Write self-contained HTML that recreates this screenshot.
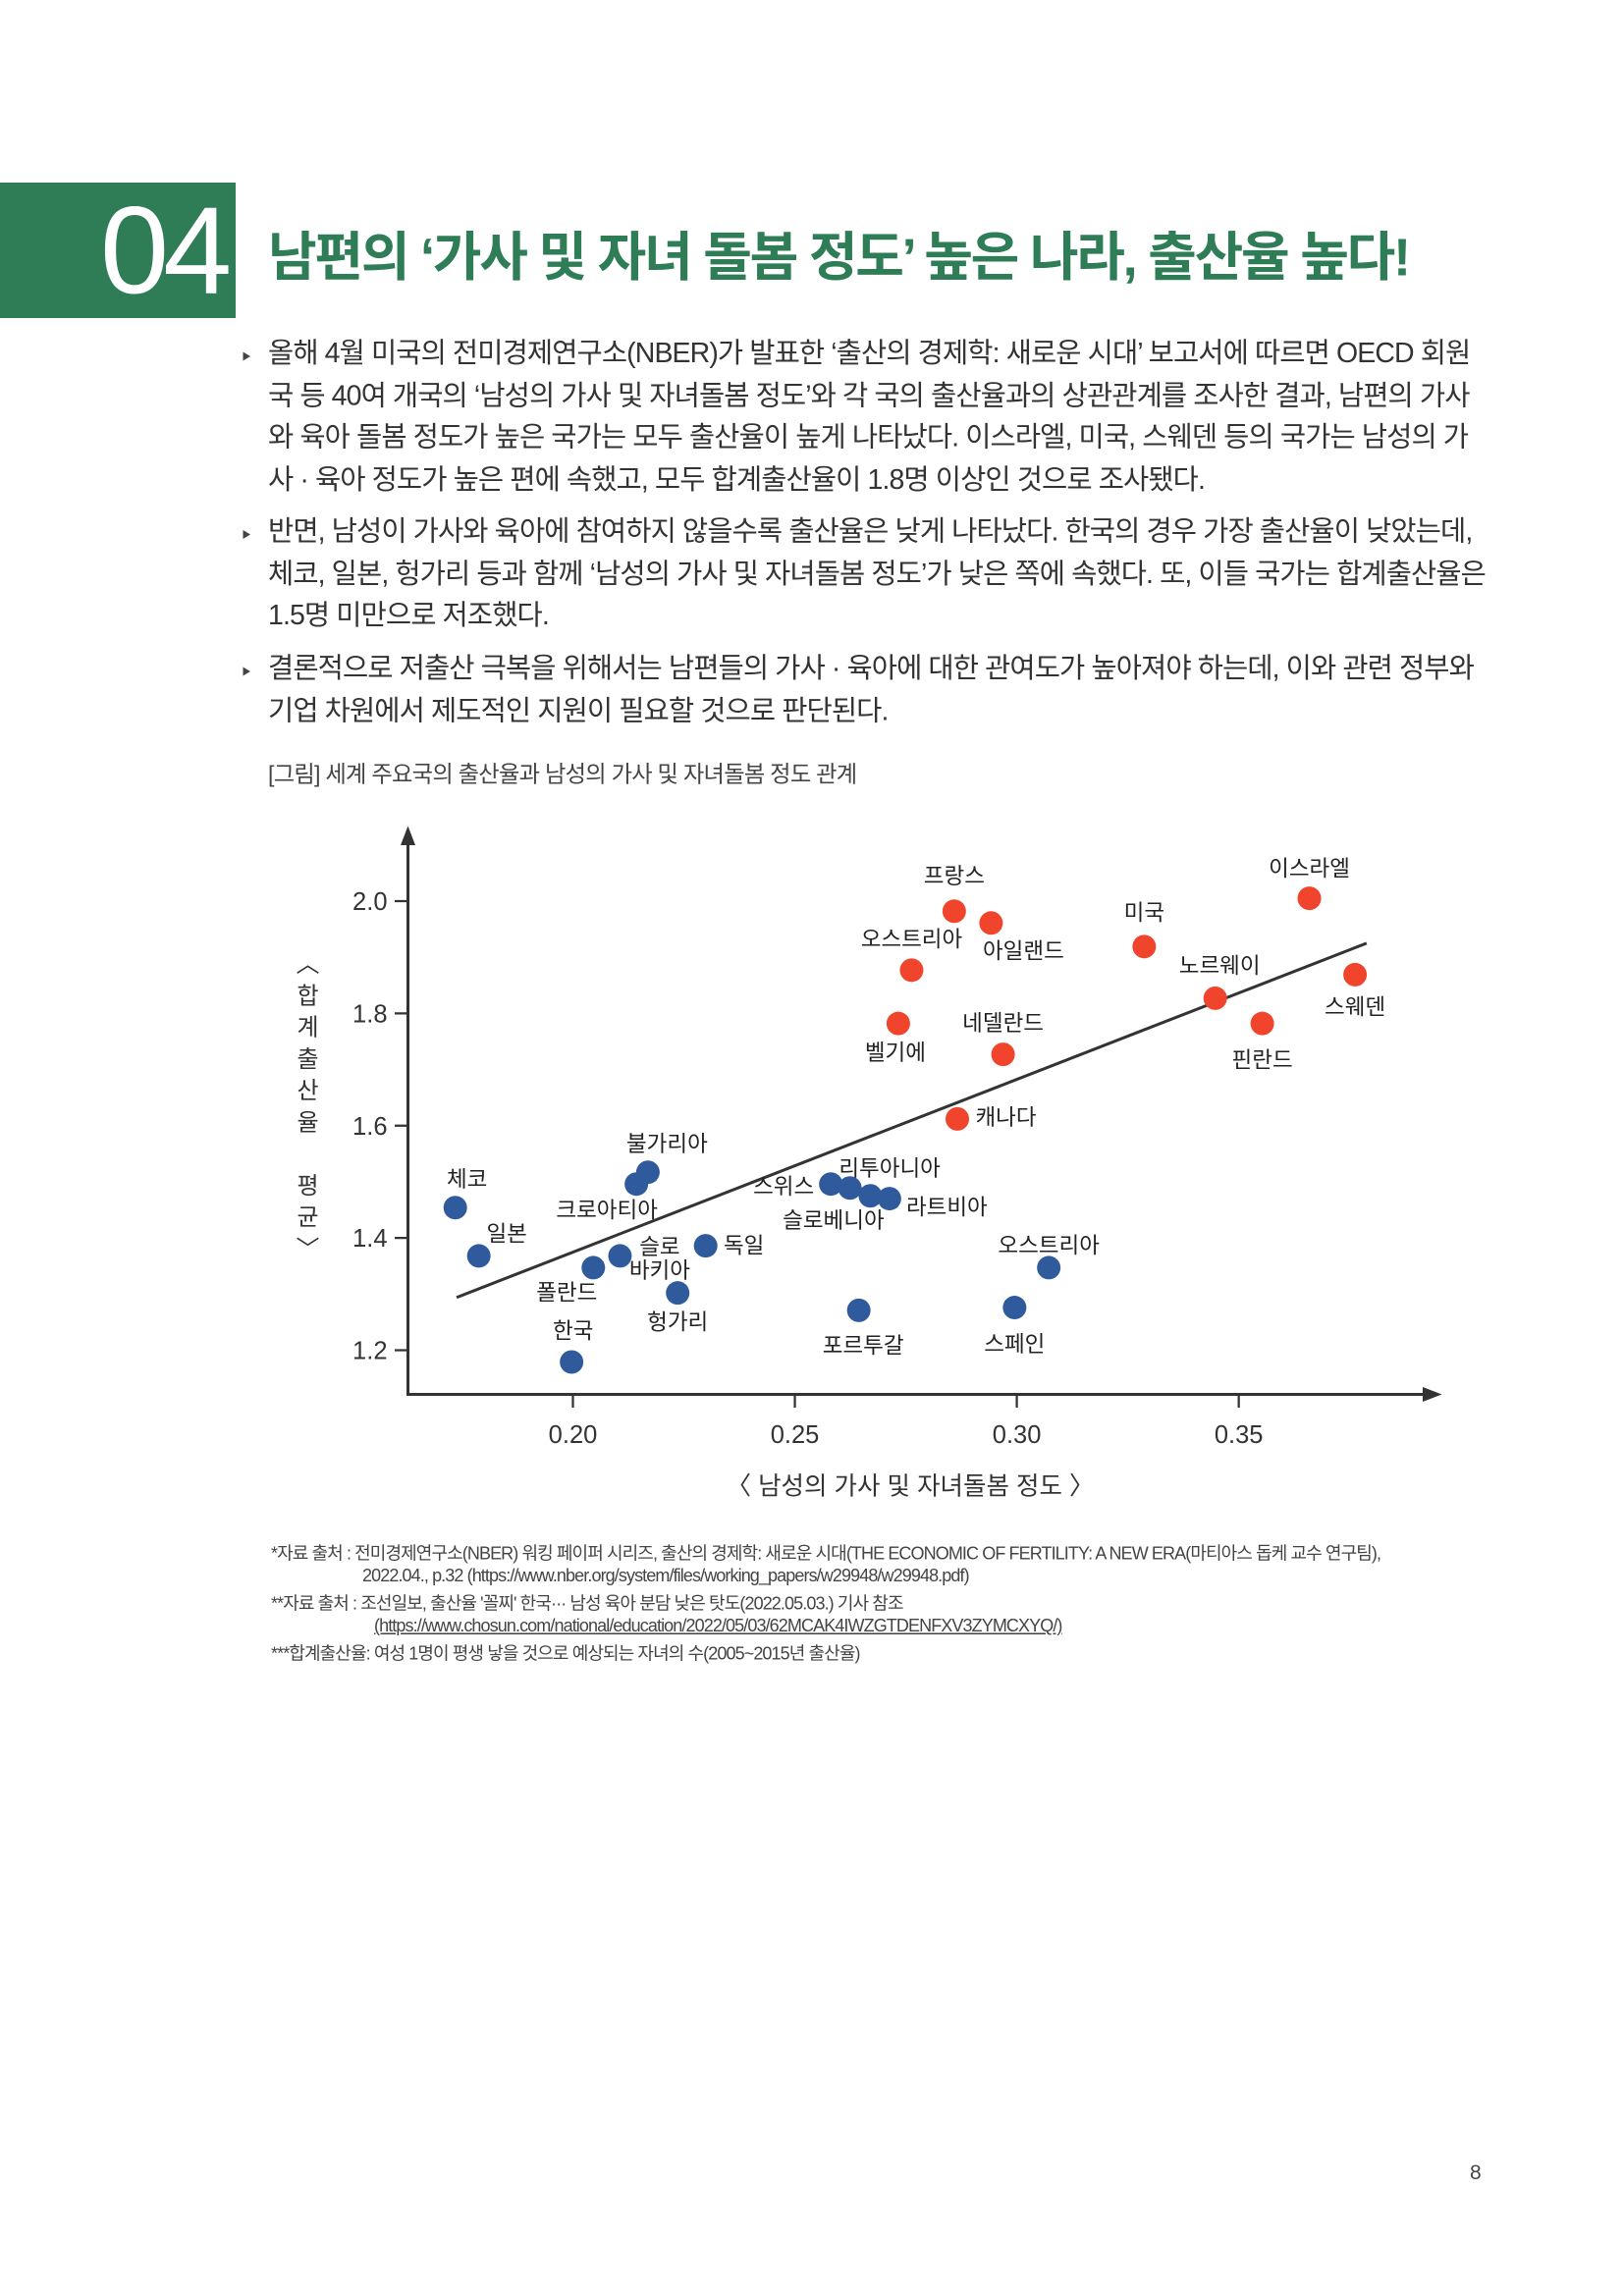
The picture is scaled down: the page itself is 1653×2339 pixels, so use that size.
<!DOCTYPE html>
<html><head><meta charset="utf-8">
<style>
html,body{margin:0;padding:0;background:#fff;}
body{width:1653px;height:2339px;overflow:hidden;position:relative;}
#pg{position:absolute;left:0;top:0;width:1102px;height:1559px;transform:scale(1.5);transform-origin:0 0;font-family:"Liberation Sans","Noto Sans CJK KR",sans-serif;color:#333;}
.hdr{position:absolute;left:0;top:124px;width:160px;height:92px;background:#2e7d57;}
.num{position:absolute;left:68px;top:124px;font-size:84px;line-height:92px;color:#fff;font-family:"Liberation Sans",sans-serif;letter-spacing:-4px;}
.title{position:absolute;left:182px;top:146px;font-size:36px;font-weight:bold;color:#2e7d57;letter-spacing:-1.5px;white-space:nowrap;}
.b{position:absolute;left:182px;width:830px;font-size:19px;line-height:28.5px;letter-spacing:-0.6px;}
.b:before{content:"";position:absolute;left:-17px;top:12px;border-left:5px solid #444;border-top:3px solid transparent;border-bottom:3px solid transparent;}
.cap{position:absolute;left:182px;top:514px;font-size:15.5px;color:#444;letter-spacing:-0.5px;}
.fn{position:absolute;font-size:12px;color:#444;letter-spacing:-0.6px;white-space:nowrap;}
svg text{font-family:"Liberation Sans","Noto Sans CJK KR",sans-serif;}
</style></head><body>
<div id="pg">
<div class="hdr"></div>
<div class="num">04</div>
<div class="title">남편의 ‘가사 및 자녀 돌봄 정도’ 높은 나라, 출산율 높다!</div>
<div class="b" style="top:227px">올해 4월 미국의 전미경제연구소(NBER)가 발표한 ‘출산의 경제학: 새로운 시대’ 보고서에 따르면 OECD 회원국 등 40여 개국의 ‘남성의 가사 및 자녀돌봄 정도’와 각 국의 출산율과의 상관관계를 조사한 결과, 남편의 가사와 육아 돌봄 정도가 높은 국가는 모두 출산율이 높게 나타났다. 이스라엘, 미국, 스웨덴 등의 국가는 남성의 가사 · 육아 정도가 높은 편에 속했고, 모두 합계출산율이 1.8명 이상인 것으로 조사됐다.</div>
<div class="b" style="top:348px">반면, 남성이 가사와 육아에 참여하지 않을수록 출산율은 낮게 나타났다. 한국의 경우 가장 출산율이 낮았는데, 체코, 일본, 헝가리 등과 함께 ‘남성의 가사 및 자녀돌봄 정도’가 낮은 쪽에 속했다. 또, 이들 국가는 합계출산율은 1.5명 미만으로 저조했다.</div>
<div class="b" style="top:441px">결론적으로 저출산 극복을 위해서는 남편들의 가사 · 육아에 대한 관여도가 높아져야 하는데, 이와 관련 정부와 기업 차원에서 제도적인 지원이 필요할 것으로 판단된다.</div>
<div class="cap">[그림] 세계 주요국의 출산율과 남성의 가사 및 자녀돌봄 정도 관계</div>

<svg id="chart" style="position:absolute;left:0;top:0" width="1102" height="1100"></svg>

<div class="fn" style="left:184px;top:1046px">*자료 출처 : 전미경제연구소(NBER) 워킹 페이퍼 시리즈, 출산의 경제학: 새로운 시대(THE ECONOMIC OF FERTILITY: A NEW ERA(마티아스 돕케 교수 연구팀),</div>
<div class="fn" style="left:246px;top:1063px">2022.04., p.32 (https://www.nber.org/system/files/working_papers/w29948/w29948.pdf)</div>
<div class="fn" style="left:184px;top:1080px">**자료 출처 : 조선일보, 출산율 '꼴찌' 한국··· 남성 육아 분담 낮은 탓도(2022.05.03.) 기사 참조</div>
<div class="fn" style="left:254px;top:1097px;text-decoration:underline">(https://www.chosun.com/national/education/2022/05/03/62MCAK4IWZGTDENFXV3ZYMCXYQ/)</div>
<div class="fn" style="left:184px;top:1114px">***합계출산율: 여성 1명이 평생 낳을 것으로 예상되는 자녀의 수(2005~2015년 출산율)</div>
<div class="fn" style="left:998px;top:1467px;font-size:14px">8</div>
</div>
<script>
const redNames=["프랑스","아일랜드","오스트리아","벨기에","네델란드","캐나다","미국","이스라엘","노르웨이","스웨덴","핀란드"];
const redX=[0.2859,0.2942,0.2763,0.2733,0.2969,0.2866,0.3287,0.3659,0.3447,0.3762,0.3553];
const redY=[1.982,1.961,1.877,1.782,1.727,1.612,1.919,2.005,1.827,1.869,1.782];
const blueNames=["체코","일본","크로아티아","불가리아","폴란드","슬로|바키아","한국","헝가리","독일","스위스","리투아니아","슬로베니아","라트비아","포르투갈","스페인","오스트리아"];
const blueX=[0.1735,0.1788,0.2143,0.2169,0.2046,0.2106,0.1997,0.2236,0.2299,0.2581,0.2624,0.2670,0.2713,0.2644,0.2995,0.3072];
const blueY=[1.454,1.368,1.496,1.517,1.347,1.368,1.179,1.302,1.386,1.496,1.489,1.475,1.470,1.271,1.276,1.347];
const trendX=[0.1738,0.3788];
const trendY=[1.294,1.925];
const xTicks=[0.20,0.25,0.30,0.35];
const yTicks=[1.2,1.4,1.6,1.8,2.0];
const xTickLabels=["0.20","0.25","0.30","0.35"];
const yTickLabels=["1.2","1.4","1.6","1.8","2.0"];
// label offsets (layout only)
const redOff=[[0,-25],[22,18],[0,-22],[-2,19],[0,-22],[33,-2],[0,-24],[0,-21],[3,-23],[0,21],[0,24]];
const blueOff=[[8,-20],[19,-16],[-20,17],[13,-20],[-18,16],[27,-7],[1,-22],[0,19],[26,-1],[-32,1],[27,-14],[-25,16],[39,5],[3,23],[0,24],[0,-16]];
const X=v=>389+(v-0.20)*3014, Y=v=>917-(v-1.2)*381.25;
const ns="http://www.w3.org/2000/svg", svg=document.getElementById('chart');
function mk(t,a){const e=document.createElementNS(ns,t);for(const k in a)e.setAttribute(k,a[k]);svg.appendChild(e);return e;}
let e;
e=mk('line',{x1:277,y1:947,x2:277,y2:572,stroke:'#333','stroke-width':2});


e=mk('polygon',{points:'277,561 272,574 282,574',fill:'#333'});


e=mk('line',{x1:276,y1:947,x2:968,y2:947,stroke:'#333','stroke-width':2});


e=mk('polygon',{points:'979,947 966,942 966,952',fill:'#333'});


xTicks.forEach((v,i)=>{
 e=mk('line',{x1:X(v),y1:947,x2:X(v),y2:956,stroke:'#333','stroke-width':1.5});
 
 
 e=mk('text',{x:X(v),y:980,'text-anchor':'middle','font-size':17,fill:'#333'});e.textContent=xTickLabels[i];
 
 
});
yTicks.forEach((v,i)=>{
 e=mk('line',{x1:268,y1:Y(v),x2:277,y2:Y(v),stroke:'#333','stroke-width':1.5});
 
 
 e=mk('text',{x:263,y:Y(v)+6,'text-anchor':'end','font-size':17,fill:'#333'});e.textContent=yTickLabels[i];
 
 
});
e=mk('text',{x:618,y:1015,'text-anchor':'middle','font-size':17,fill:'#333'});e.textContent='〈 남성의 가사 및 자녀돌봄 정도 〉';


const yt=['︿','합','계','출','산','율','','평','균','﹀'];
yt.forEach((c,i)=>{e=mk('text',{x:209,y:660+i*21.5,'text-anchor':'middle','font-size':16,fill:'#333'});e.textContent=c;
 
 });
e=mk('line',{x1:X(trendX[0]),y1:Y(trendY[0]),x2:X(trendX[1]),y2:Y(trendY[1]),stroke:'#333','stroke-width':2});


function series(xs,ys,names,offs,col,nm){
 xs.forEach((v,i)=>{
  e=mk('circle',{cx:X(v),cy:Y(ys[i]),r:8,fill:col});
  
  
  const parts=names[i].split('|');
  parts.forEach((p,j)=>{
   const t=mk('text',{x:X(v)+offs[i][0],y:Y(ys[i])+offs[i][1]+6+j*16,'text-anchor':'middle','font-size':15,fill:'#222'});
   t.textContent=p;
   
   
  });
 });
}
series(redX,redY,redNames,redOff,'#f0442c','high-fertility');
series(blueX,blueY,blueNames,blueOff,'#2f5b9c','low-fertility');
</script>
</body></html>
